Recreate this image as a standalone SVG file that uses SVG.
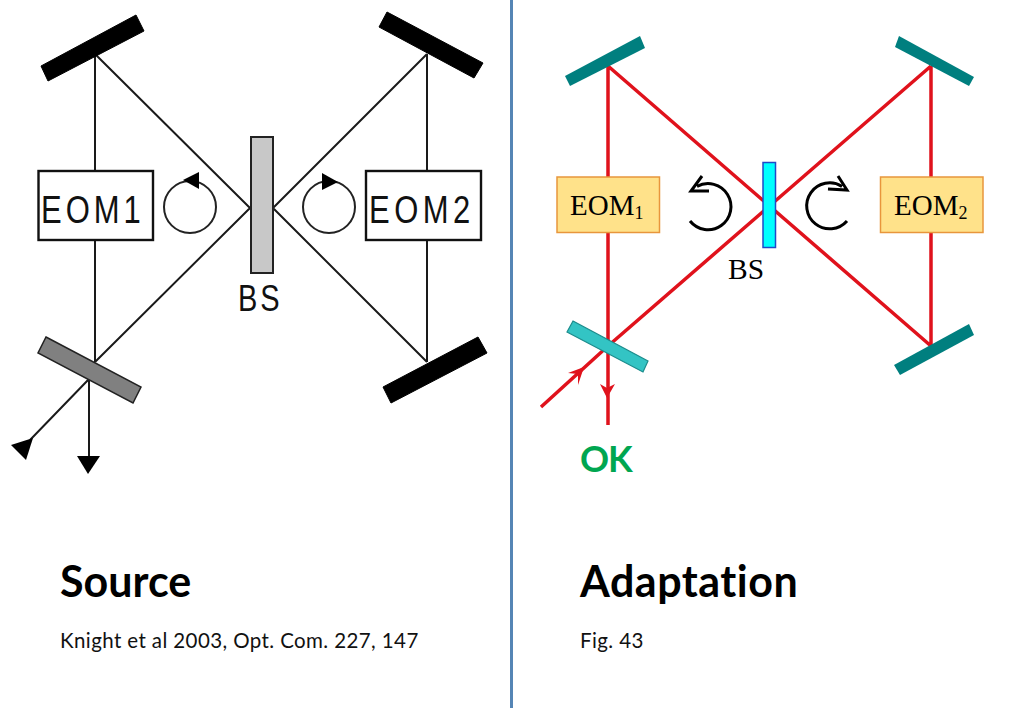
<svg xmlns="http://www.w3.org/2000/svg" width="1023" height="708" viewBox="0 0 1023 708">
<style>
.bl{fill:none;stroke:#1a1a1a;stroke-width:2}
.red{fill:none;stroke:#e0121c;stroke-width:3.5}
.ah{fill:#000;stroke:none}
.rh{fill:#e0121c;stroke:none}
.mb{fill:#000;stroke:#000;stroke-width:1}
.mt{fill:#007f7f;stroke:none}
.eb{fill:#fff;stroke:#111;stroke-width:2.4}
.ey{fill:#ffe28a;stroke:#e8963c;stroke-width:1.5}
.tl{font-family:"Liberation Sans",Arial,sans-serif;fill:#111}
.tr{font-family:"Liberation Serif","Times New Roman",serif;fill:#000}
.circ{fill:none;stroke:#222;stroke-width:2}
.rot{fill:none;stroke:#000;stroke-width:3}
.h{font-family:Lato,sans-serif;font-weight:700;font-size:43px;fill:#000;font-variant-ligatures:none}
.s{font-family:Lato,sans-serif;font-size:20.5px;letter-spacing:.4px;fill:#111;font-variant-ligatures:none}
</style>
<rect width="1023" height="708" fill="#fff"/>
<g id="connectors">
<path class="bl" d="M95 53V362M250 208L95 54M250 208L95 362M273 208L427 54M273 208L427 362M427 54V362M89 379L30 440M89 379V458"/>
<polygon class="ah" points="33,438 11,445 26,460"/>
<polygon class="ah" points="77,456 100,456 88,474"/>
<path class="red" d="M608 66V425M608 66L931 346M931 66L608 346M931 66V346M608 346L541 407"/>
<polygon class="rh" points="568,373 584,367 578,385 578,374"/>
<polygon class="rh" points="600,384 607,388 615,384 607,398"/>
</g>
<g id="mirror-tl-source"><polygon class="mb" points="41,66 136,15 144,31 48,81"/></g>
<g id="mirror-tr-source"><polygon class="mb" points="387,12 483,63 474,78 379,27"/></g>
<g id="mirror-br-source"><polygon class="mb" points="478,337 487,353 391,403 383,387"/></g>
<g id="splitter-source"><polygon fill="#808080" stroke="#222" stroke-width="1.5" points="46,337 141,387 133,403 38,353"/></g>
<g id="bs-source"><rect x="251" y="137" width="22" height="136" fill="#c8c8c8" stroke="#222" stroke-width="2"/>
<text class="tl" transform="translate(238 311) scale(1 1.25)" font-size="29" letter-spacing="3">BS</text></g>
<g id="eom1-source"><rect class="eb" x="38.500" y="171" width="114.500" height="69"/>
<text class="tl" transform="translate(41 222.500) scale(1 1.25)" font-size="31" letter-spacing="4">EOM1</text></g>
<g id="eom2-source"><rect class="eb" x="366" y="171" width="115" height="69"/>
<text class="tl" transform="translate(369 223) scale(1 1.25)" font-size="31" letter-spacing="4.500">EOM2</text></g>
<g id="rot-left-source"><circle class="circ" cx="190" cy="207" r="26"/><polygon class="ah" points="199,172 183,180 199,189"/></g>
<g id="rot-right-source"><circle class="circ" cx="329" cy="207" r="26"/><polygon class="ah" points="322,173 338,182 322,190"/></g>

<g id="mirror-tl-adapt"><polygon class="mt" points="565,76 640,36 645,48 570,86"/></g>
<g id="mirror-tr-adapt"><polygon class="mt" points="899,36 974,77 969,86 895,47"/></g>
<g id="mirror-br-adapt"><polygon class="mt" points="969,324 974,335 900,375 894,365"/></g>
<g id="splitter-adapt"><polygon fill="#33c4c4" stroke="#1c8c8c" stroke-width="1.2" points="573,321 648,361 643,372 567,332"/></g>
<g id="bs-adapt"><rect x="763" y="162.500" width="12.500" height="85" fill="#00ffff" stroke="#1f49c8" stroke-width="1.500"/>
<text class="tr" x="728" y="279" font-size="29.500">BS</text></g>
<g id="eom1-adapt"><rect class="ey" x="557" y="177" width="102.500" height="55.500"/>
<text class="tr" x="570" y="215" font-size="29">EOM<tspan font-size="18" dy="4">1</tspan></text></g>
<g id="eom2-adapt"><rect class="ey" x="880.500" y="177" width="102.500" height="55.500"/>
<text class="tr" x="894" y="215" font-size="29">EOM<tspan font-size="18" dy="4">2</tspan></text></g>
<g id="rot-left-adapt"><path class="rot" d="M690 221A23 23 0 1 0 697 186.400M702 176L691 191L709 191"/></g>
<g id="rot-right-adapt"><path class="rot" d="M847 221A23 23 0 1 1 842 186.400M838 176L847 190L828 189"/></g>

<text x="580" y="472" font-family="Lato,sans-serif" font-weight="700" font-size="36" letter-spacing="-1" fill="#00a651">OK</text>
<text class="h" x="60" y="597">Source</text>
<text class="s" x="60" y="648">Knight et al 2003, Opt. Com. 227, 147</text>
<text class="h" x="580" y="597" letter-spacing=".5">Adaptation</text>
<text class="s" x="580" y="648">Fig. 43</text>
<rect x="510" y="0" width="3" height="708" fill="#5585b5"/>
</svg>
